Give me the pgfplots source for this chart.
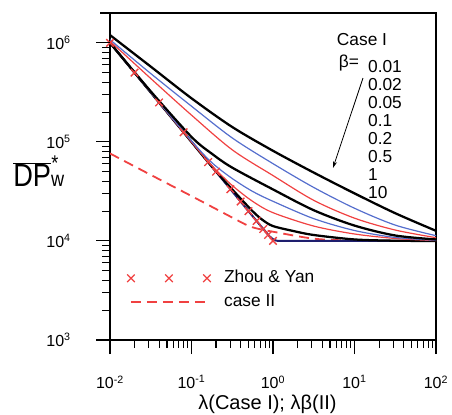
\documentclass[border=0pt]{standalone}
\usepackage{fontspec}
\setmainfont{Liberation Sans}
\usepackage{graphicx}
\usepackage{pgfplots}
\pgfplotsset{compat=1.18}
\usetikzlibrary{arrows.meta}

\definecolor{cblue}{RGB}{85,110,205}
\definecolor{cred}{RGB}{240,65,65}
\definecolor{cnavy}{RGB}{30,30,110}

\pgfplotsset{
  zylegend/.style={legend image code/.code={\draw[##1] plot coordinates {(0pt,0pt) (28.5pt,0pt) (57pt,0pt)};}},
  dashlegend/.style={legend image code/.code={\draw[##1] (0pt,0pt) -- (56pt,0pt);}},
}

\begin{document}
\begin{tikzpicture}
\path (-82.5pt,-55.5pt) rectangle (256.5pt,255pt);
\begin{axis}[
  name=ax,
  scale only axis, width=244.5pt, height=245.25pt,
  xmode=log, ymode=log,
  xmin=0.01, xmax=100, ymin=1000, ymax=2e6,
  xtick={0.01,0.1,1,10,100},
  xticklabels={10\textsuperscript{-2},10\textsuperscript{-1},10\textsuperscript{0},10\textsuperscript{1},10\textsuperscript{2}},
  ytick={1e3,1e4,1e5,1e6},
  yticklabels={10\textsuperscript{3},10\textsuperscript{4},10\textsuperscript{5},10\textsuperscript{6}},
  tick align=outside, xtick pos=left, ytick pos=left,
  major tick length=10.5pt, minor tick length=6pt,
  major tick style={draw=black, line width=0.8pt},
  minor tick style={draw=black, line width=0.8pt},
  axis line style={line width=1pt},
  tick label style={font=\fontsize{12}{14}\selectfont},
  xticklabel style={anchor=north, inner sep=0pt, yshift=-16pt},
  yticklabel style={anchor=east, inner sep=0pt, xshift=-18.75pt},
  xlabel={λ(Case I); λβ(II)},
  xlabel style={font=\fontsize{15}{17}\selectfont, at={(rel axis cs:0.483,0)}, anchor=base, yshift=-52.5pt, inner sep=0pt},
  ylabel={\scalebox{0.85}[1]{\fontsize{24}{27}\selectfont$\overline{\hbox{DP}}$\fontsize{16}{18}\selectfont w\llap{\raisebox{12pt}{*}\kern5pt}}},
  ylabel style={rotate=-90, at={(rel axis cs:0,0.468)}, anchor=base west, xshift=-72.75pt, inner sep=0pt},
  legend style={draw=none, fill=none, at={(rel axis cs:0.052,0.152)}, anchor=west, inner sep=0pt, row sep=6pt,
    font=\fontsize{13}{15}\selectfont, nodes={inner sep=0pt, text height=9.5pt, text depth=2.5pt},
    /tikz/every odd column/.append style={column sep=10pt}},
  legend cell align=left,
]
\addlegendimage{zylegend, only marks, mark=x, cred, mark size=4pt, line width=1pt}
\addlegendentry{Zhou \& Yan}
\addlegendimage{dashlegend, cred, line width=1.35pt, dash pattern=on 7.5pt off 4.5pt}
\addlegendentry{case II}

% case II
\addplot[cred, line width=1.35pt, dash pattern=on 7.5pt off 4.5pt, smooth, forget plot] coordinates {
(0.01,7.638e4) (0.0316,4.645e4) (0.1,2.838e4) (0.316,1.722e4) (0.5,1.42e4) (0.7,1.31e4) (1,1.239e4) (3.16,1.054e4) (10,1.007e4) (31.6,1e4) (100,1e4)};

% case I, beta = 10
\addplot[cnavy, line width=1.5pt, forget plot] coordinates {
(0.01,1e6) (0.1,1e5) (0.5,2e4) (0.7,1.43e4) (0.8,1.26e4) (0.9,1.12e4) (1.0,1.04e4) (1.1,1.005e4) (1.3,1e4) (100,1e4)};
% beta = 1
\addplot[black, line width=1.7pt, smooth, forget plot] coordinates {
(0.01,1e6) (0.0316,3.162e5) (0.1,1e5) (0.178,5.623e4) (0.316,3.311e4) (0.562,1.995e4) (0.75,1.622e4) (1,1.413e4) (1.78,1.259e4) (3.16,1.148e4) (10,1.035e4) (31.6,1.005e4) (100,1e4)};
% beta = 0.5
\addplot[cred, line width=0.9pt, smooth, forget plot] coordinates {
(0.01,1e6) (0.0316,3.162e5) (0.1,1e5) (0.178,5.754e4) (0.316,3.631e4) (0.562,2.512e4) (1,1.928e4) (3.16,1.413e4) (10,1.175e4) (31.6,1.059e4) (100,1.007e4)};
% beta = 0.2
\addplot[cblue, line width=0.9pt, smooth, forget plot] coordinates {
(0.01,1e6) (0.0316,3.162e5) (0.1,1.023e5) (0.178,6.166e4) (0.316,4.266e4) (0.562,3.162e4) (1,2.512e4) (3.16,1.679e4) (10,1.274e4) (31.6,1.084e4) (100,1.016e4)};
% beta = 0.1
\addplot[black, line width=1.7pt, smooth, forget plot] coordinates {
(0.01,1e6) (0.0316,3.236e5) (0.1,1.122e5) (0.178,7.586e4) (0.316,5.495e4) (1,3.311e4) (3.16,2.042e4) (10,1.429e4) (31.6,1.135e4) (100,1.035e4)};
% beta = 0.05
\addplot[cred, line width=0.9pt, smooth, forget plot] coordinates {
(0.01,1.040e6) (0.0316,4.365e5) (0.1,1.862e5) (0.316,8.318e4) (1,4.571e4) (3.16,2.570e4) (10,1.698e4) (31.6,1.288e4) (100,1.079e4)};
% beta = 0.02
\addplot[cblue, line width=0.9pt, smooth, forget plot] coordinates {
(0.01,1.076e6) (0.0316,4.898e5) (0.1,2.291e5) (0.316,1.096e5) (1,6.026e4) (3.16,3.467e4) (10,2.138e4) (31.6,1.445e4) (100,1.130e4)};
% beta = 0.01
\addplot[black, line width=1.7pt, smooth, forget plot] coordinates {
(0.01,1.197e6) (0.0316,5.754e5) (0.1,2.754e5) (0.316,1.413e5) (1,8.128e4) (3.16,4.898e4) (10,3.020e4) (31.6,1.905e4) (100,1.265e4)};

% Zhou & Yan
\addplot[only marks, mark=x, cred, mark size=4pt, line width=1pt, forget plot] coordinates {
(0.01,1e6) (0.02,5e5) (0.04,2.5e5) (0.08,1.25e5) (0.16,6.25e4) (0.2,5e4) (0.3,3.33e4) (0.4,2.5e4) (0.5,2e4) (0.63,1.59e4) (0.76,1.32e4) (0.87,1.15e4) (1,1e4)};

% annotations
\node[font=\fontsize{13}{15}\selectfont] at (rel axis cs:0.773,0.920) {Case I};
\node[font=\fontsize{13}{15}\selectfont] at (rel axis cs:0.733,0.847) {β=};
\begin{scope}[every node/.style={anchor=west, inner sep=0pt, font=\fontsize{13}{15}\selectfont}]
\node at (rel axis cs:0.791,0.836) {0.01};
\node at (rel axis cs:0.791,0.781) {0.02};
\node at (rel axis cs:0.791,0.726) {0.05};
\node at (rel axis cs:0.791,0.671) {0.1};
\node at (rel axis cs:0.791,0.616) {0.2};
\node at (rel axis cs:0.791,0.561) {0.5};
\node at (rel axis cs:0.791,0.505) {1};
\node at (rel axis cs:0.791,0.450) {10};
\end{scope}
\draw[-{Stealth[length=5pt,width=3pt]}, line width=0.6pt] (rel axis cs:0.776,0.801) -- (rel axis cs:0.684,0.526);
\end{axis}
\draw[line width=1pt] ([xshift=-7.5pt]ax.north west) -- (ax.north west);
% outward tick marks as rules: 61.125pt per decade in x, 74.294pt per decade in y
\begin{scope}[shift={(ax.south west)}, every node/.style={inner sep=0pt, outer sep=0pt}]
\foreach \d in {0,1,2,3,4} {\node[anchor=north] at ({\d*61.125pt},0pt) {\rule{0.8pt}{10.5pt}};}
\foreach \d in {0,1,2,3} {\foreach \l in {0.30103,0.47712,0.60206,0.69897,0.77815,0.84510,0.90309,0.95424} {\node[anchor=north] at ({(\d+\l)*61.125pt},0pt) {\rule{0.8pt}{6pt}};}}
\foreach \d in {0,1,2,3} {\node[anchor=east] at (0pt,{\d*74.294pt}) {\rule{10.5pt}{0.8pt}};}
\foreach \d in {0,1,2} {\foreach \l in {0.30103,0.47712,0.60206,0.69897,0.77815,0.84510,0.90309,0.95424} {\node[anchor=east] at (0pt,{(\d+\l)*74.294pt}) {\rule{6pt}{0.8pt}};}}
\end{scope}
\end{tikzpicture}
\end{document}
